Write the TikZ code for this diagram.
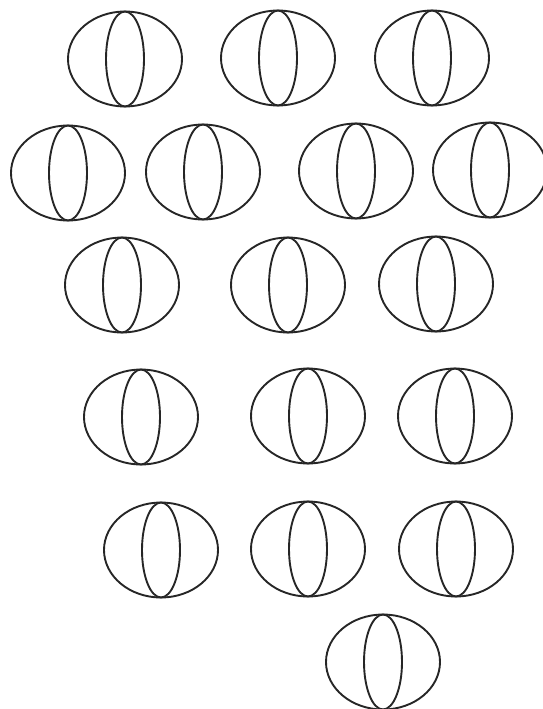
\documentclass[tikz,border=0pt]{standalone}
\begin{document}
\begin{tikzpicture}[x=1pt,y=-1pt,
  theta/.style={draw=black!85,line width=1.9pt}]
\useasboundingbox (0,0) rectangle (543,709);
\clip (0,0) rectangle (543,709);
\foreach \cx/\cy in {125/59, 278/58, 432/58,
                     68/173, 203/172, 356/171, 490/170,
                     122/285, 288/285, 436/284,
                     141/417, 308/416, 455/416,
                     161/550, 308/549, 456/549,
                     383/662}{
  \draw[theta] (\cx,\cy) ellipse [x radius=57, y radius=47.5];
  \draw[theta] (\cx,\cy) ellipse [x radius=19, y radius=47.5];
}
\end{tikzpicture}
\end{document}
